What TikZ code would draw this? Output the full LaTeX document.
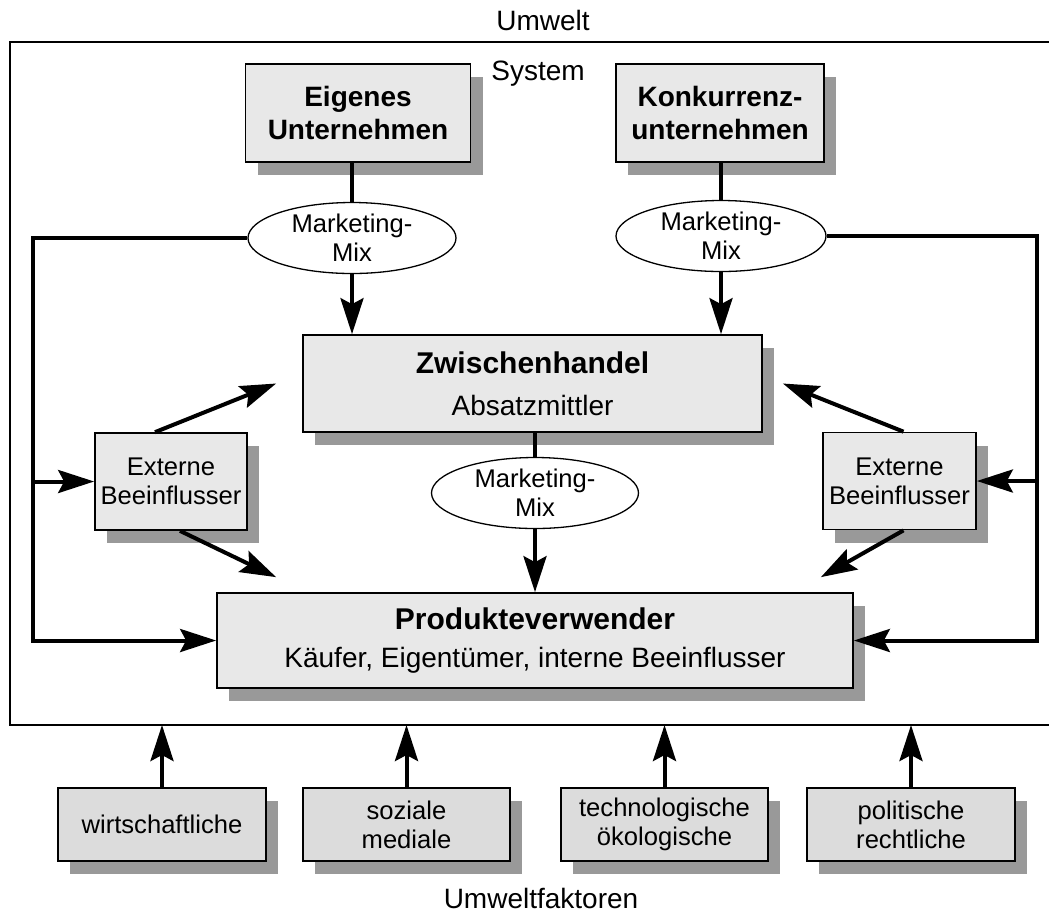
\documentclass[tikz,border=0pt]{standalone}
\usepackage{fontspec}
\setmainfont{Liberation Sans}
\usetikzlibrary{positioning, arrows.meta, shapes.geometric, shadows}
\definecolor{boxGray}{HTML}{E8E8E8}
\definecolor{factorGray}{HTML}{DCDCDC}
\definecolor{shadowGray}{HTML}{999999}

\begin{document}
\begin{tikzpicture}[
    x=0.5pt, y=-0.5pt,
    >={Stealth[length=18pt, width=11.5pt, inset=3pt]},
    smalltext/.style={font=\fontsize{12.8}{14.5}\selectfont},
    block/.style={
        draw, line width=0.85pt, fill=boxGray, inner sep=0pt, align=center,
        general shadow={fill=shadowGray, shadow xshift=6pt, shadow yshift=-6.5pt}
    },
    firmblock/.style={block, minimum height=49pt,
        font=\fontsize{14}{16.5}\selectfont\bfseries},
    mainblock/.style={block, font=\fontsize{14}{16}\selectfont},
    extblock/.style={block, smalltext, minimum width=76pt, minimum height=48.5pt},
    factorblock/.style={block, smalltext, fill=factorGray,
        minimum width=104pt, minimum height=36.5pt},
    mixellipse/.style={draw, ellipse, line width=0.65pt, fill=white, smalltext,
        align=center, inner sep=0pt, minimum width=104pt, minimum height=35.5pt},
    conn/.style={line width=2pt},
    frame/.style={line width=1pt},
    label/.style={font=\fontsize{14}{16}\selectfont, anchor=base},
]
\useasboundingbox (0,0) rectangle (1049,923);

% ============================================
% Umwelt / System frame
% ============================================
\coordinate (sysNE) at (1049,42);
\coordinate (sysSW) at (10,725);
\draw[frame] (sysNE) -| (sysSW) -- (sysSW -| sysNE);
\node[label] (umwelt) at (543,30) {Umwelt};
\node[label] (system) at (538,80) {System};

% ============================================
% Unternehmen (top)
% ============================================
\node[firmblock, minimum width=112.5pt] (eigen) at (358,113) {Eigenes\\Unternehmen};
\node[firmblock, minimum width=104pt] (konk) at (720,113) {Konkurrenz-\\unternehmen};

\node[mixellipse] (mmEigen) at (352,238) {Marketing-\\Mix};
\node[mixellipse, minimum width=105pt] (mmKonk) at (721,236) {Marketing-\\Mix};

% ============================================
% Zwischenhandel / Produkteverwender
% ============================================
\node[mainblock, minimum width=229.5pt, minimum height=48.5pt] (handel) at (532.5,383.5)
    {{\fontsize{15}{16}\selectfont\bfseries Zwischenhandel}\\[5pt]Absatzmittler};
\node[mixellipse, minimum width=103.5pt] (mmHandel) at (535,493) {Marketing-\\Mix};
\node[mainblock, minimum width=318pt, minimum height=47.5pt] (verwender) at (535,640.5)
    {{\fontsize{15}{16}\selectfont\bfseries Produkteverwender}\\[3pt]K\"aufer, Eigent\"umer, interne Beeinflusser};

% Externe Beeinflusser
\node[extblock] (extL) at (171,481.5) {Externe\\Beeinflusser};
\node[extblock, minimum width=76.5pt] (extR) at (899.5,481) {Externe\\Beeinflusser};

% ============================================
% Umweltfaktoren (bottom)
% ============================================
\node[factorblock] (wirt) at (162,824.5) {wirtschaftliche};
\node[factorblock, minimum width=103.5pt] (sozial) at (406.5,824.5) {soziale\\mediale};
\node[factorblock, minimum width=103.5pt] (techn) at (664.5,824.5) {technologische\\\"okologische};
\node[factorblock] (polit) at (911,824.5) {politische\\rechtliche};
\node[label] (faktoren) at (541,908) {Umweltfaktoren};

% ============================================
% Connections
% ============================================
\coordinate (busL) at (33,0);
\coordinate (busR) at (1037,0);

% Unternehmen -> Marketing-Mix -> Zwischenhandel
\draw[conn] (mmEigen.north) -- (mmEigen.north |- eigen.south);
\draw[conn] (mmKonk.north) -- (mmKonk.north |- konk.south);
\draw[conn, ->] (mmEigen.south) -- (mmEigen.south |- handel.north);
\draw[conn, ->] (mmKonk.south) -- (mmKonk.south |- handel.north);

% Zwischenhandel -> Marketing-Mix -> Produkteverwender
\draw[conn] (mmHandel.north) -- (mmHandel.north |- handel.south);
\draw[conn, ->] (mmHandel.south) -- (mmHandel.south |- verwender.north);

% outer loops
\draw[conn, ->] (mmEigen.west) -| (busL |- verwender.west) -- (verwender.west);
\draw[conn, ->] (busL |- extL.west) -- (extL.west);
\draw[conn, ->] (mmKonk.east) -| (busR |- verwender.east) -- (verwender.east);
\draw[conn, ->] (busR |- extR.west) -- (extR.east);

% Externe Beeinflusser
\draw[conn, ->] ([xshift=-8pt]extL.north) -- ([xshift=-13pt]handel.west);
\draw[conn, ->] ([xshift=4.5pt]extL.south) -- ([xshift=30pt, yshift=7.5pt]verwender.north west);
\draw[conn, ->] ([xshift=2pt]extR.north) -- ([xshift=10pt]handel.east);
\draw[conn, ->] ([xshift=2pt]extR.south) -- ([xshift=-16.5pt, yshift=7.5pt]verwender.north east);

% Umweltfaktoren -> System
\foreach \f in {wirt, sozial, techn, polit}
    \draw[conn, ->] (\f.north) -- (\f.north |- sysSW);

\end{tikzpicture}
\end{document}
